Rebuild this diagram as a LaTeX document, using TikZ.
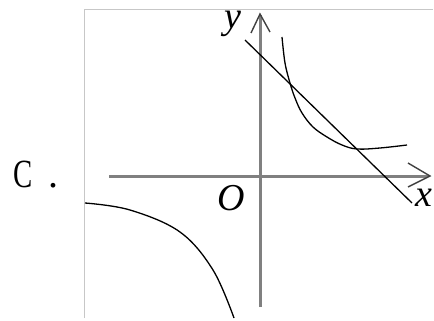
\documentclass[tikz,border=0pt]{standalone}
\usepackage{fontspec}
\setmainfont{Liberation Serif}
\begin{document}
\begin{tikzpicture}[x=1pt,y=-1pt,
  axisline/.style={line width=3pt,color=black!50},
  chev/.style={line width=1.4pt,color=black!75,line join=miter},
  curveline/.style={line width=1.3pt,color=black},
  framel/.style={line width=1pt,color=black!22},
  lab/.style={inner sep=0pt,font=\fontsize{38}{38}\selectfont\itshape}]
\useasboundingbox (0,0) rectangle (434,321);
% frame
\coordinate (fbl) at (84,318);
\coordinate (ftl) at (84,10);
\coordinate (ftr) at (433,10);
\draw[framel] (fbl) -- (ftl) -- (ftr);
% axes
\coordinate (xs) at (109,176);
\coordinate (xe) at (428,176);
\coordinate (ys) at (260,307);
\coordinate (ye) at (260,15);
\draw[axisline] (xs) -- (xe);
\draw[axisline] (ys) -- (ye);
\coordinate (xa1) at (408,163);
\coordinate (xa2) at (430,176);
\coordinate (xa3) at (408,187);
\draw[chev] (xa1) -- (xa2) -- (xa3);
\coordinate (ya1) at (251,33);
\coordinate (ya2) at (260,14);
\coordinate (ya3) at (270,32);
\draw[chev] (ya1) -- (ya2) -- (ya3);
% labels
\node[lab] (ylab) at (233,24) {y};
\node[lab] (xlab) at (424,198) {x};
\node[lab] (olab) at (231,198) {O};
\node[inner sep=0pt,anchor=base west,font=\fontsize{40}{40}\selectfont] (clab) at (13,187) {\scalebox{0.72}[1]{C}};
\node[inner sep=0pt,anchor=base west,font=\fontsize{40}{40}\selectfont] (cdot) at (48,187) {.};
% line
\coordinate (l1) at (245,40);
\coordinate (l2) at (412,203);
\draw[curveline] (l1) -- (l2);
% right branch
\draw[curveline] plot[smooth,tension=0.6] coordinates {(282,37) (285,63) (290,83) (295,98) (302,113) (313,127) (327,137) (342,145) (357,149) (380,148) (407,145)};
% left branch
\draw[curveline] plot[smooth,tension=0.6] coordinates {(85,203) (130,210) (180,232) (213,270) (234,318)};
\end{tikzpicture}
\end{document}
